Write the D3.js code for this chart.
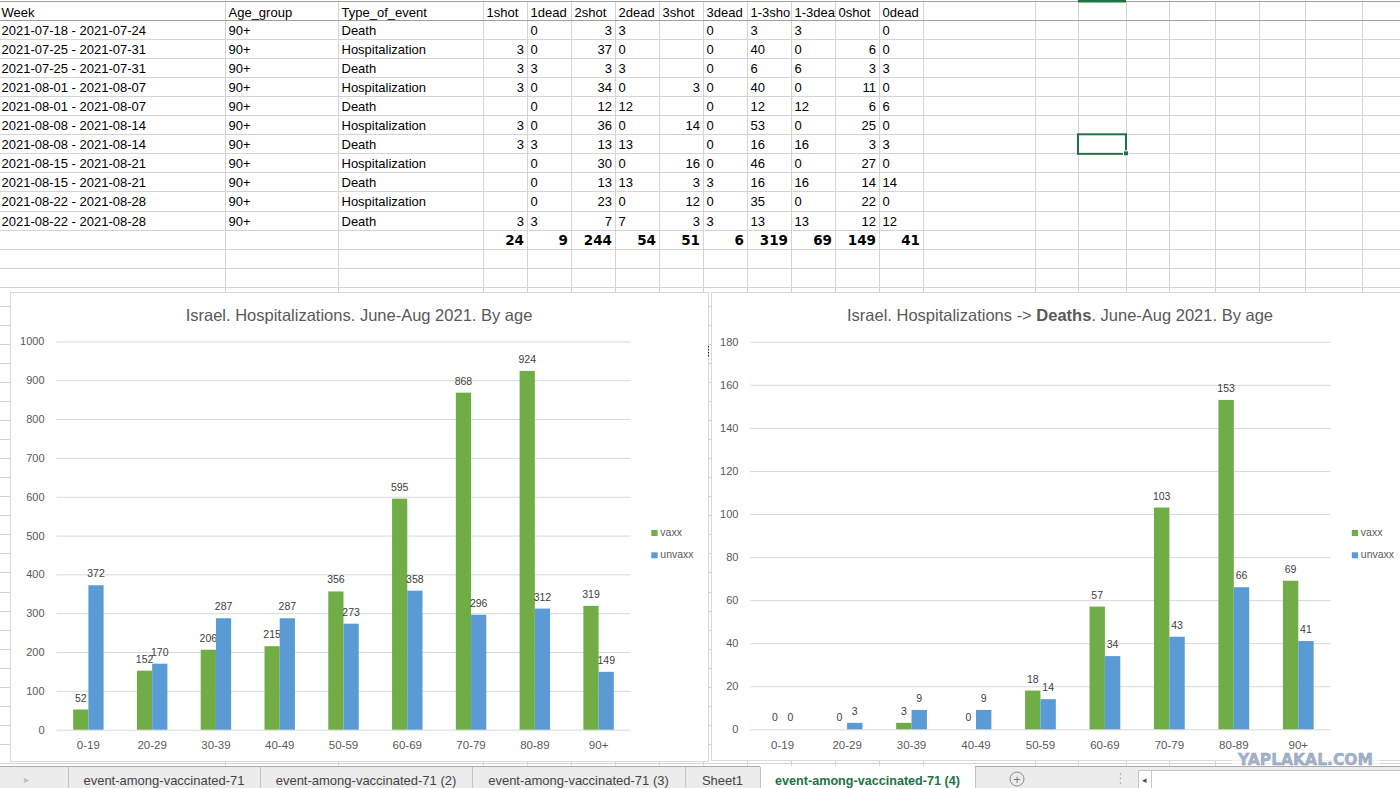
<!DOCTYPE html>
<html>
<head>
<meta charset="utf-8">
<script src="https://cdn.jsdelivr.net/npm/d3@7"></script>
<style>
  html, body { margin: 0; padding: 0; background: #fff; overflow: hidden; }
  svg { display: block; font-family: 'Liberation Sans', Arial, sans-serif; }
</style>
</head>
<body>
<svg id="page" width="1400" height="788"></svg>
<script>
// sheet contents (top part of the workbook)
const sheetHeader = ['Week', 'Age_group', 'Type_of_event', '1shot', '1dead', '2shot', '2dead', '3shot', '3dead', '1-3shot', '1-3dead', '0shot', '0dead'];
const sheetAlign = ['l', 'l', 'l', 'r', 'l', 'r', 'l', 'r', 'l', 'l', 'l', 'r', 'l'];
const sheetRows = [
  ['2021-07-18 - 2021-07-24', '90+', 'Death', '', '0', '3', '3', '', '0', '3', '3', '', '0'],
  ['2021-07-25 - 2021-07-31', '90+', 'Hospitalization', '3', '0', '37', '0', '', '0', '40', '0', '6', '0'],
  ['2021-07-25 - 2021-07-31', '90+', 'Death', '3', '3', '3', '3', '', '0', '6', '6', '3', '3'],
  ['2021-08-01 - 2021-08-07', '90+', 'Hospitalization', '3', '0', '34', '0', '3', '0', '40', '0', '11', '0'],
  ['2021-08-01 - 2021-08-07', '90+', 'Death', '', '0', '12', '12', '', '0', '12', '12', '6', '6'],
  ['2021-08-08 - 2021-08-14', '90+', 'Hospitalization', '3', '0', '36', '0', '14', '0', '53', '0', '25', '0'],
  ['2021-08-08 - 2021-08-14', '90+', 'Death', '3', '3', '13', '13', '', '0', '16', '16', '3', '3'],
  ['2021-08-15 - 2021-08-21', '90+', 'Hospitalization', '', '0', '30', '0', '16', '0', '46', '0', '27', '0'],
  ['2021-08-15 - 2021-08-21', '90+', 'Death', '', '0', '13', '13', '3', '3', '16', '16', '14', '14'],
  ['2021-08-22 - 2021-08-28', '90+', 'Hospitalization', '', '0', '23', '0', '12', '0', '35', '0', '22', '0'],
  ['2021-08-22 - 2021-08-28', '90+', 'Death', '3', '3', '7', '7', '3', '3', '13', '13', '12', '12']
];
const sheetTotals = [24, 9, 244, 54, 51, 6, 319, 69, 149, 41];

// chart data
const ageGroups = ['0-19', '20-29', '30-39', '40-49', '50-59', '60-69', '70-79', '80-89', '90+'];
const seriesNames = ['vaxx', 'unvaxx'];
const hospVaxx = [52, 152, 206, 215, 356, 595, 868, 924, 319];
const hospUnvaxx = [372, 170, 287, 287, 273, 358, 296, 312, 149];
const deathVaxx = [0, 0, 3, 0, 18, 57, 103, 153, 69];
const deathUnvaxx = [0, 3, 9, 9, 14, 34, 43, 66, 41];

const sheetTabs = ['event-among-vaccinated-71', 'event-among-vaccinated-71 (2)', 'event-among-vaccinated-71 (3)', 'Sheet1', 'event-among-vaccinated-71 (4)'];

const colors = { vaxx: '#70ad47', unvaxx: '#5b9bd5' };
const svg = d3.select('#page');

// ---------- spreadsheet grid ----------
const colEdges = [-2, 225, 338, 483, 527, 571, 615, 659, 703, 747, 791, 835, 879, 923, 1035, 1078, 1126, 1169, 1215, 1259, 1305, 1362, 1420];
const rowH = 19.05;
const rowEdges = d3.range(0, 40).map(i => 20 + i * rowH).filter(y => y < 766);

const grid = svg.append('g');
grid.selectAll('line.v').data(colEdges.slice(1, -1)).join('line')
  .attr('x1', d => d + 0.5).attr('x2', d => d + 0.5)
  .attr('y1', 1).attr('y2', 766)
  .attr('stroke', '#d4d4d4');
grid.selectAll('line.h').data(rowEdges).join('line')
  .attr('x1', 0).attr('x2', 1400)
  .attr('y1', d => Math.round(d) + 0.5).attr('y2', d => Math.round(d) + 0.5)
  .attr('stroke', (d, i) => i === 0 ? '#a0a0a0' : '#d4d4d4');
grid.append('line').attr('x1', 0).attr('x2', 1400).attr('y1', 1.5).attr('y2', 1.5).attr('stroke', '#a0a0a0');

// cell text, cut at the cell border like Excel does when the neighbour is filled
const cells = svg.append('g').attr('font-size', 13).attr('fill', '#000');

function cellText(c, txt, rowTop, opts = {}) {
  if (txt === '' || txt == null) return;
  const x0 = colEdges[c], x1 = colEdges[c + 1];
  const align = opts.align || sheetAlign[c];
  const t = cells.append('text')
    .attr('x', align === 'r' ? x1 - 3 : x0 + 3.5)
    .attr('y', rowTop + 15)
    .attr('text-anchor', align === 'r' ? 'end' : 'start')
    .attr('font-family', opts.family || null)
    .attr('font-weight', opts.weight || null)
    .attr('font-size', opts.size || null)
    .text(txt);
  let s = txt;
  while (s.length > 1 && t.node().getComputedTextLength() > x1 - x0 - 3) {
    s = s.slice(0, -1);
    t.text(s);
  }
}

sheetHeader.forEach((h, c) => cellText(c, h, 1.5, { align: 'l' }));
sheetRows.forEach((row, r) => row.forEach((v, c) => cellText(c, v, 20 + r * rowH)));
sheetTotals.forEach((v, i) => cellText(i + 3, String(v), 20 + sheetRows.length * rowH,
  { align: 'r', weight: 'bold', family: "'DejaVu Sans', Verdana, sans-serif", size: 13.5 }));

// selected cell + column marker
const selTop = 20 + 6 * rowH;
svg.append('rect').attr('x', 1078).attr('y', selTop).attr('width', 48).attr('height', rowH + 0.5)
  .attr('fill', 'none').attr('stroke', '#217346').attr('stroke-width', 2);
svg.append('rect').attr('x', 1123.5).attr('y', selTop + rowH - 2.5).attr('width', 5).attr('height', 5)
  .attr('fill', '#217346').attr('stroke', '#fff').attr('stroke-width', 1);
svg.append('rect').attr('x', 1078).attr('y', 0).attr('width', 48).attr('height', 2.5).attr('fill', '#217346');

// ---------- charts ----------
function drawChart(cfg) {
  const g = svg.append('g');
  g.append('rect').attr('x', cfg.box[0] + 0.5).attr('y', cfg.box[1] + 0.5)
    .attr('width', cfg.box[2]).attr('height', cfg.box[3])
    .attr('fill', '#fff').attr('stroke', '#d9d9d9');

  const title = g.append('text')
    .attr('x', cfg.titleX).attr('y', 320.5)
    .attr('text-anchor', 'middle').attr('font-size', 16.5).attr('fill', '#595959');
  cfg.title.forEach(p => title.append('tspan').attr('font-weight', p.bold ? 'bold' : null).text(p.t));

  const x = d3.scaleBand().domain(ageGroups).range(cfg.xRange);
  const y = d3.scaleLinear().domain([0, cfg.yMax]).range(cfg.yRange);
  const bw = x.bandwidth() / 4.19;
  const x1 = d3.scaleBand().domain(seriesNames).range([0, 2 * bw]);
  const off = (x.bandwidth() - 2 * bw) / 2;

  const yAxis = g.append('g').attr('transform', `translate(${cfg.xRange[0]},0)`)
    .call(d3.axisLeft(y).tickValues(d3.range(0, cfg.yMax + 1, cfg.yStep)).tickFormat(d3.format('d'))
      .tickSize(-(cfg.xRange[1] - cfg.xRange[0])).tickPadding(12));
  yAxis.select('.domain').remove();
  yAxis.selectAll('line').attr('stroke', '#d9d9d9');
  yAxis.selectAll('text').attr('fill', '#595959').attr('font-size', 11)
    .attr('font-family', "'Liberation Sans', Arial, sans-serif");

  const xAxis = g.append('g').attr('transform', `translate(0,${cfg.yRange[0]})`)
    .call(d3.axisBottom(x).tickSize(0).tickPadding(11.5));
  xAxis.select('.domain').remove();
  xAxis.selectAll('text').attr('fill', '#595959').attr('font-size', 11.5)
    .attr('font-family', "'Liberation Sans', Arial, sans-serif");

  const rows = ageGroups.map((a, i) => ({ age: a, vaxx: cfg.vaxx[i], unvaxx: cfg.unvaxx[i] }));
  const grp = g.append('g').selectAll('g').data(rows).join('g')
    .attr('transform', d => `translate(${x(d.age) + off},0)`);
  const pts = grp.selectAll('g').data(d => seriesNames.map(s => ({ s, v: d[s] }))).join('g');
  pts.append('rect')
    .attr('x', d => x1(d.s)).attr('width', x1.bandwidth())
    .attr('y', d => y(d.v)).attr('height', d => y(0) - y(d.v))
    .attr('fill', d => colors[d.s]);
  pts.append('text')
    .attr('x', d => x1(d.s) + x1.bandwidth() / 2)
    .attr('y', d => y(d.v) - 8)
    .attr('text-anchor', 'middle').attr('font-size', 10.5).attr('fill', '#404040')
    .text(d => d.v);

  const leg = g.append('g').selectAll('g').data(seriesNames).join('g')
    .attr('transform', (d, i) => `translate(${cfg.legendX},${530 + i * 22.3})`);
  leg.append('rect').attr('width', 6.3).attr('height', 6).attr('fill', d => colors[d]);
  leg.append('text').attr('x', 9).attr('y', 6).attr('font-size', 10.5).attr('fill', '#595959').text(d => d);
}

drawChart({
  box: [10, 292, 698, 469],
  title: [{ t: 'Israel. Hospitalizations. June-Aug 2021. By age' }],
  titleX: 359,
  xRange: [56.5, 630.5], yRange: [729.7, 341.4],
  yMax: 1000, yStep: 100,
  vaxx: hospVaxx, unvaxx: hospUnvaxx,
  legendX: 651.3
});
drawChart({
  box: [711, 292, 700, 468],
  title: [{ t: 'Israel. Hospitalizations -> ' }, { t: 'Deaths', bold: true }, { t: '. June-Aug 2021. By age' }],
  titleX: 1060,
  xRange: [750.4, 1330.5], yRange: [729.3, 341.8],
  yMax: 180, yStep: 20,
  vaxx: deathVaxx, unvaxx: deathUnvaxx,
  legendX: 1351.8
});

// little resize marker between the two charts
svg.append('line').attr('x1', 708.5).attr('x2', 708.5).attr('y1', 346).attr('y2', 358)
  .attr('stroke', '#222').attr('stroke-dasharray', '1.5,1.5');

// watermark
svg.append('rect').attr('x', 1232).attr('y', 750).attr('width', 148).attr('height', 16)
  .attr('fill', '#fff').attr('opacity', 0.6);
svg.append('text').attr('x', 1238).attr('y', 765)
  .attr('font-family', "'DejaVu Sans', Verdana, sans-serif").attr('font-weight', 'bold')
  .attr('font-size', 15).attr('fill', '#a3b2c9').attr('stroke', '#8b9cb8').attr('stroke-width', 0.4)
  .attr('textLength', 135).attr('lengthAdjust', 'spacingAndGlyphs')
  .text('YAPLAKAL.COM');

// ---------- sheet tab bar ----------
const tabBar = svg.append('g');
tabBar.append('rect').attr('x', 0).attr('y', 766).attr('width', 1400).attr('height', 22).attr('fill', '#ececec');
const tabEdges = [68, 260, 472, 685, 760, 975];
const activeTab = 4;
tabBar.append('rect').attr('x', tabEdges[activeTab]).attr('y', 766)
  .attr('width', tabEdges[activeTab + 1] - tabEdges[activeTab]).attr('height', 22).attr('fill', '#fff');
tabBar.append('line').attr('x1', 0).attr('x2', tabEdges[activeTab]).attr('y1', 766.5).attr('y2', 766.5).attr('stroke', '#ababab');
tabBar.append('line').attr('x1', tabEdges[activeTab + 1]).attr('x2', 1400).attr('y1', 766.5).attr('y2', 766.5).attr('stroke', '#ababab');
tabBar.selectAll('line.sep').data(tabEdges).join('line')
  .attr('x1', d => d + 0.5).attr('x2', d => d + 0.5).attr('y1', 767).attr('y2', 788)
  .attr('stroke', '#c3c3c3');
tabBar.selectAll('text.tab').data(sheetTabs).join('text')
  .attr('x', (d, i) => (tabEdges[i] + tabEdges[i + 1]) / 2)
  .attr('y', 785)
  .attr('text-anchor', 'middle')
  .attr('font-size', (d, i) => i === activeTab ? 12.6 : 13)
  .attr('font-weight', (d, i) => i === activeTab ? 'bold' : null)
  .attr('fill', (d, i) => i === activeTab ? '#217346' : '#444')
  .text(d => d);
tabBar.append('text').attr('x', 24).attr('y', 783).attr('font-size', 10).attr('fill', '#bdbdbd').text('\u25B8');
tabBar.append('circle').attr('cx', 1017).attr('cy', 779).attr('r', 7).attr('fill', 'none').attr('stroke', '#8a8a8a');
tabBar.append('text').attr('x', 1017).attr('y', 783.5).attr('text-anchor', 'middle').attr('font-size', 13).attr('fill', '#7a7a7a').text('+');
tabBar.selectAll('circle.dot').data([774, 778.5, 783]).join('circle')
  .attr('cx', 1120.5).attr('cy', d => d).attr('r', 0.8).attr('fill', '#9a9a9a');
tabBar.append('rect').attr('x', 1138.5).attr('y', 770.5).attr('width', 270).attr('height', 18)
  .attr('fill', '#fff').attr('stroke', '#c6c6c6');
tabBar.append('line').attr('x1', 1151.5).attr('x2', 1151.5).attr('y1', 771).attr('y2', 788).attr('stroke', '#c6c6c6');
tabBar.append('text').attr('x', 1141.5).attr('y', 783).attr('font-size', 9).attr('fill', '#555').text('\u25C2');
</script>
</body>
</html>
